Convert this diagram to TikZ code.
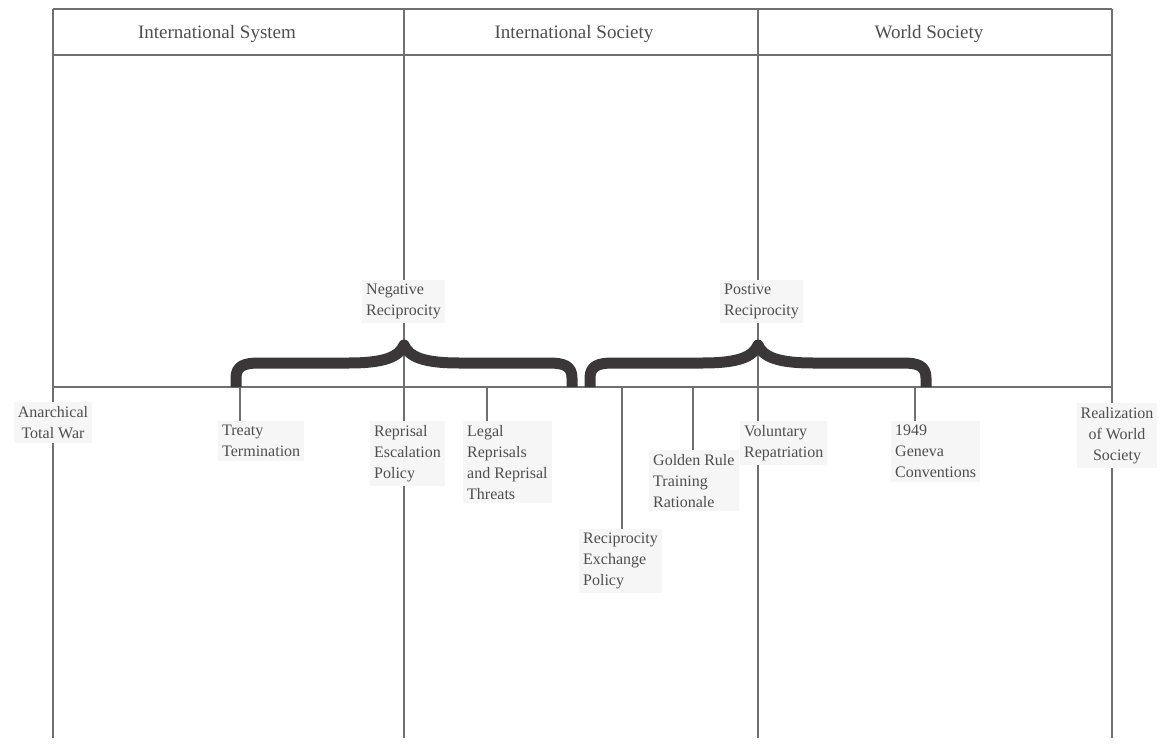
\documentclass[tikz,border=0pt]{standalone}
\usepackage{fontspec}
\setmainfont{LiberationSerif}[Extension=.ttf, UprightFont=*-Regular]
\definecolor{rulegray}{HTML}{707070}
\definecolor{textgray}{HTML}{4E4E4E}
\definecolor{boxgray}{HTML}{F6F6F6}
\definecolor{bracegray}{HTML}{3B3738}
\tikzset{
  gridline/.style={draw=rulegray, line width=1.4pt},
  heading/.style={text=textgray, font=\fontsize{19}{23}\selectfont},
  eventbox/.style={fill=boxgray, inner xsep=4pt, inner ysep=4pt, align=left,
    text=textgray, font=\fontsize{16}{21}\selectfont},
  recbrace/.style={draw=bracegray, line width=11pt, line join=round}
}
\begin{document}
\begin{tikzpicture}[x=1pt, y=-1pt]
  \useasboundingbox (0,0) rectangle (1165,746);

  % table frame and the axis
  \draw[gridline] (53,9) -- (1112,9);
  \draw[gridline] (53,55) -- (1112,55);
  \draw[gridline] (53,387) -- (1112,387);
  \foreach \x in {53,404,758,1112}
    \draw[gridline] (\x,9) -- (\x,738);

  \node[heading] (system) at (217,34) {International System};
  \node[heading] (society) at (574,34) {International Society};
  \node[heading] (world) at (929,34) {World Society};

  % the two reciprocity braces
  \foreach \c in {404,758}
    \draw[recbrace, shift={(\c,0)}] (-168,387) -- (-168,378)
      .. controls (-168,366) and (-160,363) .. (-145,363) -- (-55,363)
      .. controls (-20,363) and (-5,357) .. (0,345)
      .. controls (5,357) and (20,363) .. (55,363) -- (145,363)
      .. controls (160,363) and (168,366) .. (168,378) -- (168,387);

  \node[eventbox, anchor=north west] (negative) at (362,280) {Negative\\Reciprocity};
  \node[eventbox, anchor=north west] (positive) at (720,280) {Postive\\Reciprocity};

  \node[eventbox, anchor=north, align=center] (anarchical) at (53,402) {Anarchical\\Total War};
  \node[eventbox, anchor=north west] (treaty) at (218,421) {Treaty\\Termination};
  \node[eventbox, anchor=north west] (escalation) at (370,421) {Reprisal\\Escalation\\Policy};
  \node[eventbox, anchor=north west] (legal) at (463,421) {Legal\\Reprisals\\and Reprisal\\Threats};
  \node[eventbox, anchor=north west] (exchange) at (579,529) {Reciprocity\\Exchange\\Policy};
  \node[eventbox, anchor=north west] (golden) at (649,450) {Golden Rule\\Training\\Rationale};
  \node[eventbox, anchor=north west] (voluntary) at (740,421) {Voluntary\\Repatriation};
  \node[eventbox, anchor=north west] (geneva) at (891,421) {1949\\Geneva\\Conventions};
  \node[eventbox, anchor=north, align=center] (realization) at (1117,403) {Realization\\of World\\Society};

  % points on the axis and their ticks
  \coordinate (treatytick) at (240,387);
  \coordinate (legaltick) at (487,387);
  \coordinate (exchangetick) at (622,387);
  \coordinate (goldentick) at (693,387);
  \coordinate (genevatick) at (915,387);

  \draw[gridline] (treatytick) -- (treatytick |- treaty.north);
  \draw[gridline] (legaltick) -- (legaltick |- legal.north);
  \draw[gridline] (exchangetick) -- (exchangetick |- exchange.north);
  \draw[gridline] (goldentick) -- (goldentick |- golden.north);
  \draw[gridline] (genevatick) -- (genevatick |- geneva.north);
\end{tikzpicture}
\end{document}
